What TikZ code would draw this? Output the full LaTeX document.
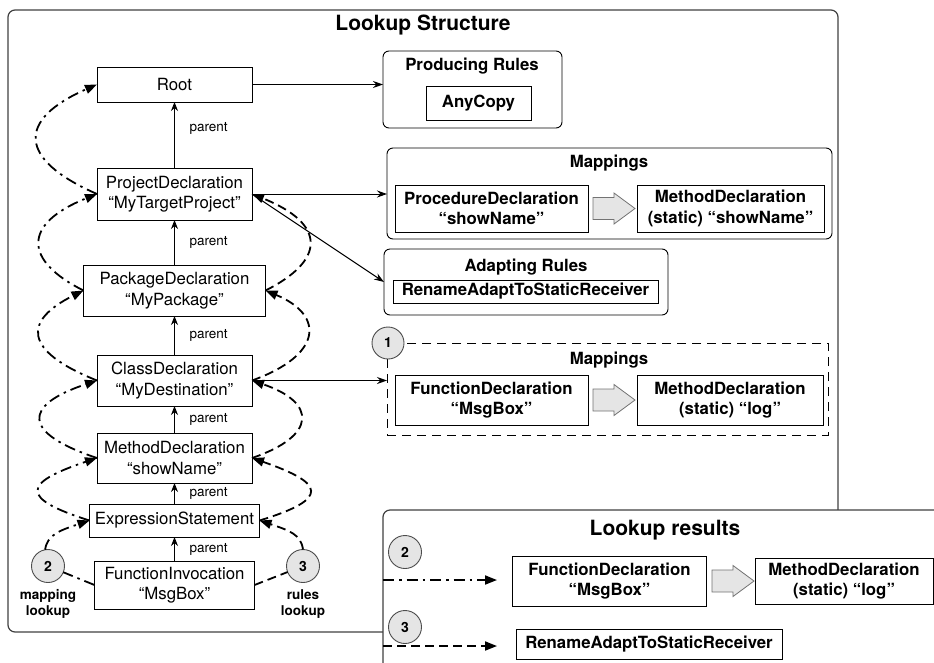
\documentclass[tikz,border=0pt]{standalone}
\usepackage{fontspec}
\setmainfont{TeX Gyre Heros}
\usetikzlibrary{arrows.meta}
\newcommand{\myfN}{\fontsize{16.8}{20.5}\selectfont}
\newcommand{\myfB}{\bfseries\fontsize{16.8}{20.5}\selectfont}
\newcommand{\myfT}{\bfseries\fontsize{21}{25}\selectfont}
\newcommand{\myfS}{\fontsize{13.5}{16}\selectfont}
\newcommand{\myfSB}{\bfseries\fontsize{13.5}{16}\selectfont}
\begin{document}
\begin{tikzpicture}[x=1pt,y=-1pt,
  every node/.style={inner sep=0pt, outer sep=0pt},
  elem/.style={draw=black, line width=0.9pt, fill=white, align=center, font=\myfN},
  belem/.style={draw=black, line width=0.9pt, fill=white, align=center, font=\myfB},
  container/.style={draw=black, line width=0.9pt, rounded corners=6pt},
  outerbox/.style={draw=black!75, line width=1.2pt, rounded corners=7pt},
  ctitle/.style={font=\myfB},
  btitle/.style={font=\myfT},
  lbl/.style={font=\myfS, anchor=west, xshift=15pt},
  circ/.style={circle, draw=black!70, fill=black!10, line width=0.9pt, minimum size=33pt, font=\bfseries\fontsize{14}{16}\selectfont},
  par/.style={line width=1pt, -{Stealth[length=9pt,width=7pt]}},
  conn/.style={line width=1pt, -{Stealth[length=10pt,width=7pt]}},
  ml/.style={line width=1.8pt, dash pattern=on 11pt off 5pt on 2.5pt off 5pt},
  rl/.style={line width=1.8pt, dash pattern=on 9pt off 5pt},
  tip/.style={-{Triangle[length=12pt,width=9pt]}},
  barrow/.pic={\draw[draw=black!55, fill=black!10, line width=0.8pt]
     (-21,-11) -- (0,-11) -- (0,-15.5) -- (21,0) -- (0,15.5) -- (0,11) -- (-21,11) -- cycle;}
]
\clip (0,0) rectangle (934,662);

% main container
\node[outerbox, minimum width=830pt, minimum height=622pt] (main) at (423,321) {};
\node[btitle] (mainT) at (423,25) {Lookup Structure};

% left column
\node[elem, minimum width=155pt, minimum height=35pt] (root) at (174.5,84.5) {Root};
\node[elem, minimum width=155pt, minimum height=52pt] (projd) at (174.5,194) {ProjectDeclaration\\“MyTargetProject”};
\node[elem, minimum width=182pt, minimum height=51pt] (pkg) at (174.5,290.5) {PackageDeclaration\\“MyPackage”};
\node[elem, minimum width=155pt, minimum height=51pt] (cls) at (174.5,380.5) {ClassDeclaration\\“MyDestination”};
\node[elem, minimum width=155pt, minimum height=50pt] (mth) at (174.5,458) {MethodDeclaration\\“showName”};
\node[elem, minimum width=170pt, minimum height=33pt] (exs) at (174.5,520.5) {ExpressionStatement};
\node[elem, minimum width=160pt, minimum height=48pt] (fin) at (174.5,585) {FunctionInvocation\\“MsgBox”};

\draw[par] (projd) -- (root) node[lbl, pos=0.6] (p1) {parent};
\draw[par] (pkg) -- (projd) node[lbl, midway] (p2) {parent};
\draw[par] (cls) -- (pkg) node[lbl, midway] (p3) {parent};
\draw[par] (mth) -- (cls) node[lbl, midway] (p4) {parent};
\draw[par] (exs) -- (mth) node[lbl, midway] (p5) {parent};
\draw[par] (fin) -- (exs) node[lbl, midway] (p6) {parent};

\node[circ] (c2) at (48,566) {2};
\node[circ] (c3) at (303,566) {3};
\node[font=\myfSB, align=center] (mlT) at (48,604) {mapping\\lookup};
\node[font=\myfSB, align=center] (rlT) at (303,604) {rules\\lookup};

% mapping lookup (left, dash-dot)
\draw[ml] (fin.west) -- (c2);
\draw[ml, tip] (c2.100) .. controls +(2,-15) and +(-30,10) .. (exs.west);
\draw[ml, tip] (exs.west) .. controls +(-70,-22) and +(-75,25) .. (mth.west);
\draw[ml, tip] (mth.west) .. controls +(-75,-25) and +(-75,25) .. (cls.west);
\draw[ml, tip] (cls.west) .. controls +(-75,-30) and +(-60,30) .. (pkg.west);
\draw[ml, tip] (pkg.west) .. controls +(-60,-30) and +(-75,30) .. (projd.west);
\draw[ml, tip] (projd.west) .. controls +(-80,-35) and +(-80,35) .. (root.west);

% rules lookup (right, dashed)
\draw[rl] (fin.east) -- (c3);
\draw[rl, tip] (c3.90) .. controls +(-2,-15) and +(30,10) .. (exs.east);
\draw[rl, tip] (exs.east) .. controls +(72,-22) and +(72,25) .. (mth.east);
\draw[rl, tip] (mth.east) .. controls +(65,-22) and +(65,22) .. (cls.east);
\draw[rl, tip] (cls.east) .. controls +(70,-25) and +(60,25) .. (pkg.east);
\draw[rl, tip] (pkg.east) .. controls +(60,-30) and +(75,30) .. (projd.east);

% Producing Rules
\node[container, minimum width=179pt, minimum height=77pt] (prod) at (472.5,89.5) {};
\node[ctitle] (prodT) at (472,66) {Producing Rules};
\node[belem, minimum width=105pt, minimum height=34pt] (anyc) at (478.5,103) {AnyCopy};

% Mappings 1
\node[container, minimum width=445pt, minimum height=91pt] (map1) at (609.5,193.5) {};
\node[ctitle] (map1T) at (609,163) {Mappings};
\node[belem, minimum width=193pt, minimum height=47pt] (procd) at (491.5,208.5) {ProcedureDeclaration\\“showName”};
\node[belem, minimum width=187pt, minimum height=47pt] (msn) at (730.5,208.5) {MethodDeclaration\\(static) “showName”};
\pic at (614,208.5) {barrow};

% Adapting Rules
\node[container, minimum width=284pt, minimum height=66pt] (adapt) at (526,282) {};
\node[ctitle] (adaptT) at (526,267) {Adapting Rules};
\node[belem, minimum width=265pt, minimum height=23pt] (rar1) at (525.5,291.5) {RenameAdaptToStaticReceiver};

% Mappings 2 (dashed)
\node[draw=black, line width=1pt, dash pattern=on 9pt off 6pt, minimum width=441pt, minimum height=92pt] (map2) at (607.5,389) {};
\node[circ, minimum size=32pt] (c1) at (388,343) {1};
\node[ctitle] (map2T) at (609,360) {Mappings};
\node[belem, minimum width=193pt, minimum height=50pt] (fdecl) at (491.5,400) {FunctionDeclaration\\“MsgBox”};
\node[belem, minimum width=186pt, minimum height=50pt] (mlog) at (730,400) {MethodDeclaration\\(static) “log”};
\pic at (614,400) {barrow};

% connectors
\draw[conn] (root.east) -- (root.east -| prod.west);
\draw[conn] (projd.east) -- (projd.east -| map1.west);
\draw[conn] (projd.east) -- (adapt.west);
\draw[conn] (cls.east) -- (cls.east -| map2.west);

% Lookup results
\node[outerbox, fill=white, minimum width=600pt, minimum height=250pt, anchor=north west] (res) at (383,510) {};
\node[btitle] (resT) at (665,530) {Lookup results};
\node[circ, minimum size=33pt] (c2r) at (405,552) {2};
\coordinate (a2s) at (383,580);
\coordinate (a2e) at (497,580);
\draw[ml, tip] (a2s) -- (a2e);
\node[belem, minimum width=194pt, minimum height=50pt] (fdr) at (609.5,581) {FunctionDeclaration\\“MsgBox”};
\node[belem, minimum width=178pt, minimum height=46pt] (mlr) at (844,581) {MethodDeclaration\\(static) “log”};
\pic at (733,581) {barrow};
\node[circ, minimum size=33pt] (c3r) at (405,627) {3};
\coordinate (a3s) at (383,646);
\coordinate (a3e) at (497,646);
\draw[rl, tip] (a3s) -- (a3e);
\node[belem, minimum width=266pt, minimum height=30pt] (rar2) at (649,644) {RenameAdaptToStaticReceiver};
\end{tikzpicture}
\end{document}
